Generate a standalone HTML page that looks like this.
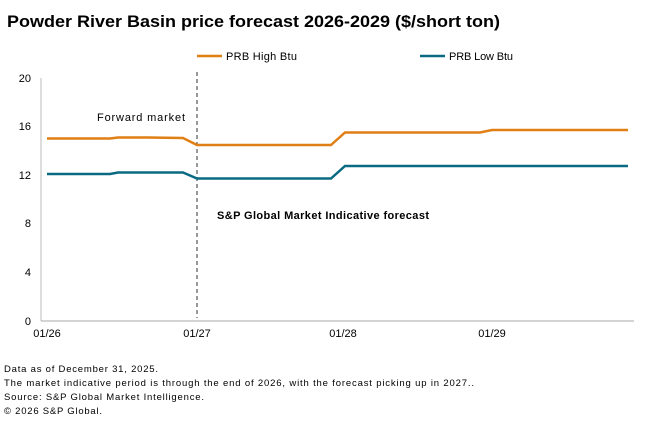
<!DOCTYPE html>
<html><head><meta charset="utf-8"><style>
body{margin:0;background:#fff;width:660px;height:432px;overflow:hidden;font-family:"Liberation Sans",sans-serif;}
</style></head><body>
<svg width="660" height="432" xmlns="http://www.w3.org/2000/svg" font-family="Liberation Sans, sans-serif">
<text x="7" y="27" font-size="17" font-weight="bold" fill="#000" textLength="493" lengthAdjust="spacingAndGlyphs">Powder River Basin price forecast 2026-2029 ($/short ton)</text>
<line x1="197" y1="56" x2="222" y2="56" stroke="#e07f14" stroke-width="2.5"/>
<text x="226" y="60" font-size="11" fill="#000" textLength="71">PRB High Btu</text>
<line x1="420" y1="56" x2="445" y2="56" stroke="#0a6a82" stroke-width="2.5"/>
<text x="449" y="60" font-size="11" fill="#000" textLength="64">PRB Low Btu</text>
<g font-size="11" fill="#000" text-anchor="end">
<text x="31" y="82">20</text><text x="31" y="130">16</text><text x="31" y="179">12</text>
<text x="31" y="227">8</text><text x="31" y="276">4</text><text x="31" y="325">0</text>
</g>
<line x1="41" y1="78" x2="41" y2="321" stroke="#bbb" stroke-width="1"/>
<line x1="41" y1="321" x2="634" y2="321" stroke="#aaa" stroke-width="1"/>
<g font-size="11" fill="#000" text-anchor="middle">
<text x="47" y="337">01/26</text><text x="197" y="337">01/27</text><text x="343" y="337">01/28</text><text x="492" y="337">01/29</text>
</g>
<line x1="197" y1="72" x2="197" y2="318" stroke="#333" stroke-width="1" stroke-dasharray="4,3"/>
<text x="97" y="121" font-size="11" fill="#000" textLength="88">Forward  market</text>
<text x="217" y="219" font-size="11" font-weight="bold" fill="#000" textLength="212">S&amp;P Global Market Indicative forecast</text>
<polyline fill="none" stroke="#e07f14" stroke-width="2.5" points="47,138.5 110,138.5 118,137.5 148,137.5 183,138 197,145 331,145 345,132.5 480,132.5 492,130 628,130"/>
<polyline fill="none" stroke="#0a6a82" stroke-width="2.5" points="47,174 110,174 118,172.5 183,172.5 197,178.5 331,178.5 345,166 628,166"/>
<g font-size="9.5" fill="#000">
<text x="4" y="372" textLength="154">Data as of December  31, 2025.</text>
<text x="4" y="386" textLength="470">The market indicative period is through the end of 2026, with the forecast picking up in 2027..</text>
<text x="4" y="400" textLength="200">Source: S&amp;P Global Market Intelligence.</text>
<text x="4" y="414" textLength="98">© 2026 S&amp;P Global.</text>
</g>
</svg>
</body></html>
